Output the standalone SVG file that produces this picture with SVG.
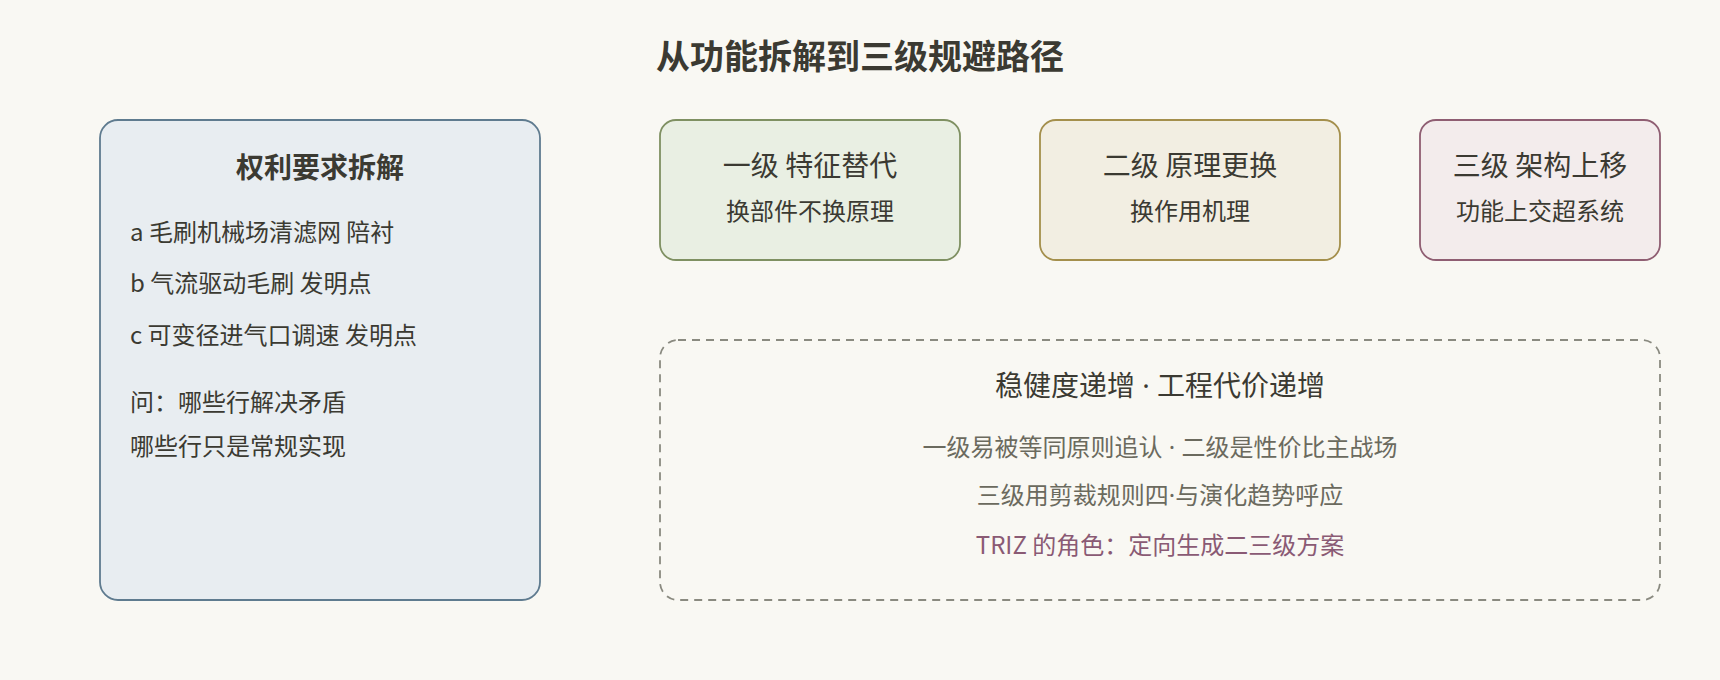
<svg xmlns="http://www.w3.org/2000/svg" width="1720" height="680" viewBox="0 0 1720 680">
<style>
text{font-family:"Noto Sans CJK SC","Noto Sans",sans-serif;fill:#3b3a32}
.title{font-size:34px;font-weight:700;text-anchor:middle}
.h{font-size:28px;text-anchor:middle}
.hb{font-size:28px;font-weight:700;text-anchor:middle}
.s{font-size:24px;text-anchor:middle}
.l{font-size:24px}
.g{font-size:24px;text-anchor:middle;fill:#6b6a5e}
.p{font-size:24px;text-anchor:middle;fill:#8a5a74}
.d{font-family:"Noto Sans",sans-serif}
.box{stroke-width:1.8}
</style>
<rect width="1720" height="680" fill="#f9f8f3"/>
<text class="title" x="860" y="69">从功能拆解到三级规避路径</text>
<g id="claims">
<rect class="box" x="100" y="120" width="440" height="480" rx="18" fill="#e8edf1" stroke="#5f7b8f"/>
<text class="hb" x="320" y="178">权利要求拆解</text>
<text class="l" x="130" y="241">a 毛刷机械场清滤网 陪衬</text>
<text class="l" x="130" y="292">b 气流驱动毛刷 发明点</text>
<text class="l" x="130" y="344">c 可变径进气口调速 发明点</text>
<text class="l" x="130" y="411">问：哪些行解决矛盾</text>
<text class="l" x="130" y="455">哪些行只是常规实现</text>
</g>
<g id="level1">
<rect class="box" x="660" y="120" width="300" height="140" rx="16" fill="#e9efe3" stroke="#7f9062"/>
<text class="h" x="810" y="176">一级 特征替代</text>
<text class="s" x="810" y="220">换部件不换原理</text>
</g>
<g id="level2">
<rect class="box" x="1040" y="120" width="300" height="140" rx="16" fill="#f2eee2" stroke="#a48f4c"/>
<text class="h" x="1190" y="176">二级 原理更换</text>
<text class="s" x="1190" y="220">换作用机理</text>
</g>
<g id="level3">
<rect class="box" x="1420" y="120" width="240" height="140" rx="16" fill="#f3ecec" stroke="#8f5e72"/>
<text class="h" x="1540" y="176">三级 架构上移</text>
<text class="s" x="1540" y="220">功能上交超系统</text>
</g>
<g id="summary">
<rect x="660" y="340" width="1000" height="260" rx="18" fill="none" stroke="#8a8a80" stroke-width="1.8" stroke-dasharray="8 6"/>
<text class="h" x="1160" y="396">稳健度递增<tspan class="d"> · </tspan>工程代价递增</text>
<text class="g" x="1160" y="456">一级易被等同原则追认<tspan class="d"> · </tspan>二级是性价比主战场</text>
<text class="g" x="1160" y="504">三级用剪裁规则四<tspan class="d">·</tspan>与演化趋势呼应</text>
<text class="p" x="1160" y="554">TRIZ 的角色：定向生成二三级方案</text>
</g>
<g id="connectors"></g>
</svg>
